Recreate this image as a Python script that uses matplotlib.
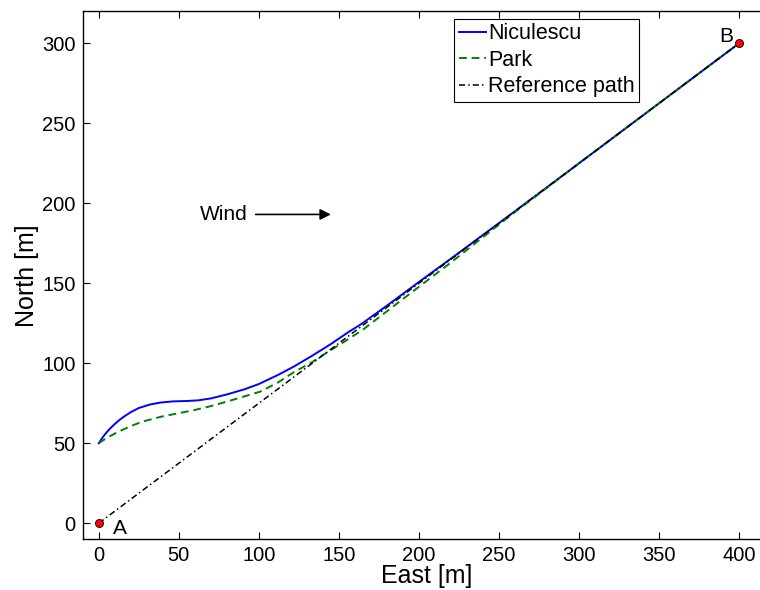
import numpy as np
import matplotlib

matplotlib.use("Agg")
import matplotlib.pyplot as plt

plt.rcParams["font.family"] = ["Liberation Sans", "DejaVu Sans"]

# path traces (East [m], North [m])
nic_east = [0, 2, 4, 6, 8, 10, 13, 16, 20, 25, 32, 39, 47, 55, 62, 70, 80, 91,
            100, 112, 122, 133, 145, 156, 164, 180, 200, 220, 250, 300, 350, 400]
nic_north = [50, 53, 55.7, 58, 60.1, 62, 64.6, 66.8, 69.4, 72, 74.2, 75.5, 76.2,
             76.4, 76.8, 78, 80.5, 83.7, 87, 92.7, 98, 104.5, 112, 119.5, 124.5,
             136, 150.8, 165.4, 187.6, 225, 262.5, 300]

park_east = [0, 3, 6, 10, 14, 18, 23, 28, 39, 50, 60, 70, 80, 90, 101, 112, 122,
             133, 143, 155, 165, 180, 200, 220, 240, 260, 280, 300, 350, 400]
park_north = [50, 52, 53.9, 56, 58, 59.8, 61.9, 63.7, 66.6, 68.8, 70.8, 73.2, 76,
              79, 82.3, 88, 94.5, 100.5, 107, 114.5, 121, 132.5, 147.8, 163,
              178.8, 194.5, 209.7, 225, 262.5, 300]

ref_east = [0, 400]
ref_north = [0, 300]

point_names = ["A", "B"]
point_east = [0, 400]
point_north = [0, 300]

fig = plt.figure(figsize=(7.6, 5.9), dpi=100)
# the right-hand edge of the box runs just past the picture, as in the original
ax = fig.add_axes([0.1088, 0.086, 0.906, 0.895])

ax.plot(nic_east, nic_north, "-", color="#0000ff", lw=1.4, label="Niculescu")
ax.plot(park_east, park_north, "--", color="#008000", lw=1.4,
        dashes=(4, 2.5), label="Park")
ax.plot(ref_east, ref_north, "-.", color="black", lw=1.1,
        dashes=(4, 2, 1, 2), label="Reference path")
ax.plot(point_east, point_north, "o", ms=5.8, mfc="red", mec="black",
        mew=0.6, ls="", zorder=5)

ax.text(point_east[0] + 9, point_north[0] - 3, point_names[0],
        fontsize=15, va="center", ha="left")
ax.text(point_east[1] - 4, point_north[1] + 4, point_names[1],
        fontsize=15, va="center", ha="right")

ax.annotate("", xy=(145, 193), xytext=(98, 193),
            arrowprops=dict(arrowstyle="-|>", color="black", lw=1.2,
                            mutation_scale=16, shrinkA=0, shrinkB=0))
ax.text(93, 193, "Wind", fontsize=15, ha="right", va="center")

ax.set_xlim(-10, 420)
ax.set_ylim(-10, 320)
ax.set_xticks(np.arange(0, 401, 50))
ax.set_yticks(np.arange(0, 301, 50))
ax.tick_params(direction="in", length=4.8, width=0.8, labelsize=14.5,
               top=True, right=False, pad=5)
for s in ax.spines.values():
    s.set_linewidth(1.0)
ax.spines["right"].set_visible(False)
ax.set_xlabel("East [m]", fontsize=18, labelpad=-1)
ax.set_ylabel("North [m]", fontsize=18, labelpad=2)

leg = ax.legend(loc="upper right", bbox_to_anchor=(0.808, 0.985),
                fontsize=15.5, handlelength=1.25, handletextpad=0.12,
                labelspacing=0.25, borderpad=0.2, borderaxespad=0,
                fancybox=False, framealpha=1, edgecolor="black")
leg.get_frame().set_linewidth(0.8)

fig.savefig("out.png", dpi=100)
